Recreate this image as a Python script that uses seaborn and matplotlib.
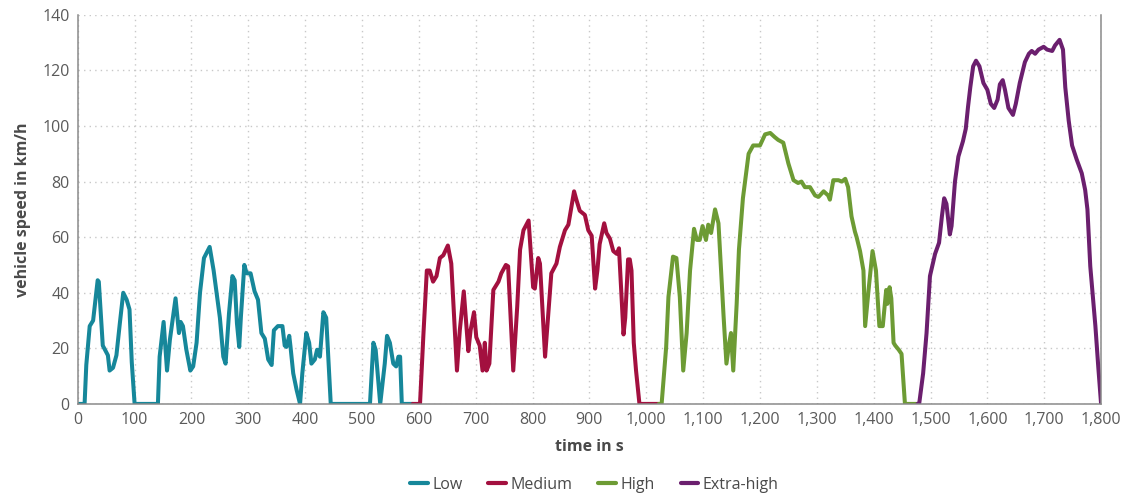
import pandas as pd
import matplotlib
matplotlib.use("Agg")
import matplotlib.pyplot as plt
import seaborn as sns
from matplotlib.ticker import FuncFormatter

# WLTC speed trace as (time s, speed km/h)
low = [(0, 0), (12, 0), (15, 14), (21, 28), (27, 30), (35, 44.5), (37, 44), (44, 21),
       (53, 17.5), (56, 12), (62, 13), (68, 17.5), (74, 29), (80, 40), (86, 37.5), (91, 34),
       (95, 15), (100, 0), (141, 0), (144, 17), (151, 29.5), (157, 12), (162, 23), (172, 38),
       (178, 25.5), (181, 29.5), (185, 28), (191, 19.5), (198, 12), (203, 13.5), (209, 22),
       (215, 40), (222, 52.5), (232, 56.5), (239, 48), (250, 31), (256, 17), (260, 14.5),
       (266, 32.5), (272, 46), (276, 44.5), (280, 29), (284, 20.5), (287, 31.5), (293, 50),
       (297, 47), (304, 47), (311, 40.5), (317, 37.5), (323, 25.5), (329, 23.5), (335, 16),
       (341, 14), (345, 26.5), (352, 28), (360, 28), (364, 21), (367, 20.5), (372, 24.5),
       (374, 21), (379, 11), (385, 5), (391, 0), (395, 11), (402, 25.5), (407, 22),
       (411, 14.5), (417, 16), (421, 19.5), (426, 17), (432, 33), (437, 31), (445, 0),
       (514, 0), (520, 22), (524, 19.5), (532, 0), (540, 14.5), (544, 24.5), (549, 22),
       (555, 14.5), (560, 13.5), (564, 17), (567, 17), (570, 0), (589, 0)]

medium = [(589, 0), (602, 0), (608, 25), (614, 48), (619, 48), (625, 44), (631, 46),
          (637, 52.5), (643, 53.5), (651, 57), (657, 50.5), (667, 12), (672, 26.5),
          (679, 40.5), (687, 19), (691, 26.5), (697, 33), (701, 24), (707, 21), (712, 12),
          (716, 22), (719, 12), (724, 14.5), (731, 41), (740, 44), (745, 47), (753, 50),
          (757, 49.5), (766, 12), (773, 35), (778, 55.5), (784, 62.5), (793, 66), (801, 42),
          (804, 41.5), (810, 52.5), (813, 50.5), (822, 17), (833, 47), (842, 50.5),
          (848, 56.5), (857, 62.5), (863, 64.5), (873, 76.5), (877, 73.5), (883, 69.5),
          (892, 68), (898, 62.5), (904, 60.5), (910, 41.5), (914, 48), (918, 57.5), (926, 65),
          (930, 61.5), (936, 59.5), (942, 55), (948, 54), (952, 56), (960, 25), (963, 31),
          (968, 52), (971, 52), (974, 48), (978, 22), (982, 12), (988, 0), (1022, 0)]

high = [(1022, 0), (1027, 0), (1035, 20.5), (1039, 38.5), (1047, 53), (1053, 52.5),
        (1059, 38.5), (1065, 12), (1071, 25.5), (1077, 48), (1084, 63), (1089, 59),
        (1094, 59), (1099, 64), (1105, 59), (1109, 64.5), (1114, 61.5), (1121, 70),
        (1127, 65), (1136, 31.5), (1141, 14.5), (1146, 22), (1149, 25.5), (1153, 12),
        (1159, 36), (1163, 55.5), (1170, 74), (1180, 90), (1188, 93), (1200, 93), (1209, 97),
        (1218, 97.5), (1226, 96), (1232, 95), (1241, 94), (1250, 86.5), (1259, 80.5),
        (1267, 79.5), (1273, 80), (1279, 78), (1288, 78), (1297, 75), (1303, 74.5),
        (1312, 76.5), (1320, 75), (1323, 73.5), (1329, 80.5), (1338, 80.5), (1344, 80),
        (1350, 81), (1355, 78), (1361, 67.5), (1367, 62), (1370, 60), (1376, 55), (1382, 48),
        (1385, 28), (1391, 41), (1398, 55), (1404, 48), (1410, 28), (1416, 28), (1422, 41),
        (1424, 36), (1428, 42), (1431, 38), (1435, 22), (1438, 21), (1444, 19.5), (1449, 18),
        (1455, 0), (1477, 0)]

extra_high = [(1477, 0), (1480, 0), (1487, 11), (1493, 25.5), (1499, 46), (1508, 54),
              (1515, 58), (1520, 67.5), (1524, 74), (1528, 72), (1534, 61), (1537, 64),
              (1543, 80), (1549, 89), (1557, 94.5), (1562, 99), (1566, 107), (1570, 114),
              (1575, 121.5), (1580, 123.5), (1586, 121.5), (1593, 115.5), (1600, 113),
              (1606, 108), (1612, 106.5), (1618, 109.5), (1622, 115), (1627, 116.5),
              (1631, 113), (1637, 106.5), (1645, 104), (1650, 108), (1657, 115.5), (1666, 123),
              (1673, 126), (1678, 127), (1684, 126), (1690, 127.5), (1699, 128.5),
              (1705, 127.5), (1714, 127), (1719, 129), (1727, 131), (1733, 127.5), (1737, 114),
              (1743, 102), (1749, 93), (1757, 88), (1766, 83), (1772, 77), (1776, 70),
              (1781, 49.5), (1790, 28), (1795, 13.5), (1800, 0)]

phases = ["Low", "Medium", "High", "Extra-high"]
colors = ["#16879a", "#a3103f", "#6d9b34", "#6b1f6e"]

frames = []
for name, pts in zip(phases, [low, medium, high, extra_high]):
    d = pd.DataFrame(pts, columns=["time", "speed"])
    d["phase"] = name
    frames.append(d)
df = pd.concat(frames, ignore_index=True)

sns.set_style("white")
plt.rcParams["font.family"] = ["Open Sans", "DejaVu Sans"]

fig = plt.figure(figsize=(11.27, 4.95), dpi=100)
ax = fig.add_axes([0.069, 0.184, 0.908, 0.786])

sns.lineplot(data=df, x="time", y="speed", hue="phase", hue_order=phases,
             palette=colors, sort=False, estimator=None, linewidth=2.9, ax=ax)
for ln in ax.get_lines():
    ln.set_solid_joinstyle("round")
    ln.set_solid_capstyle("round")

ax.set_xlim(0, 1800)
ax.set_ylim(0, 140)
ax.set_xticks(range(0, 1801, 100))
ax.set_yticks(range(0, 141, 20))
ax.xaxis.set_major_formatter(FuncFormatter(lambda v, p: f"{int(v):,}"))
ax.grid(True, linestyle=(0, (1, 3)), color="#c8c8c8", linewidth=1)
ax.tick_params(axis="both", labelsize=11.5, colors="#5a5a5a", length=0, pad=6)

for side in ["left", "bottom", "right"]:
    ax.spines[side].set_color("#8a8a8a")
    ax.spines[side].set_linewidth(1.1)
ax.spines["top"].set_visible(False)

ax.set_xlabel("time in s", fontsize=11.5, fontweight="bold", color="#4a4a4a", labelpad=8)
ax.set_ylabel("vehicle speed in km/h", fontsize=11.5, fontweight="bold", color="#4a4a4a", labelpad=8)

leg = ax.legend(loc="center", bbox_to_anchor=(0.505, -0.208), ncol=4, frameon=False,
                fontsize=11.5, handlelength=1.1, handletextpad=0.3, columnspacing=1.6)
for line in leg.get_lines():
    line.set_linewidth(3)
for txt in leg.get_texts():
    txt.set_color("#4a4a4a")

fig.savefig("out.png", dpi=100)
plt.close(fig)
